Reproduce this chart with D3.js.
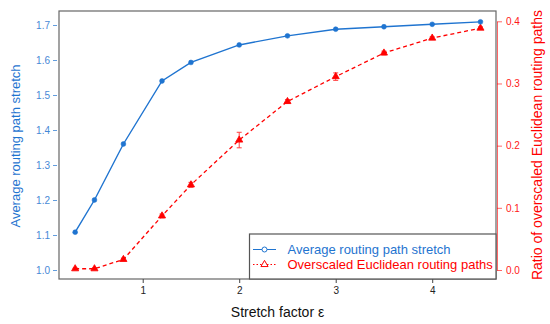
<!DOCTYPE html>
<html><head><meta charset="utf-8">
<script src="https://cdn.jsdelivr.net/npm/d3@7"></script>
<style>body{margin:0;background:#fff}svg{display:block}text{font-family:"Liberation Sans",Arial,sans-serif}</style>
</head><body><svg id="c" width="550" height="324"></svg>
<script>
const eps = [0.3,0.5,0.8,1.2,1.5,2,2.5,3,3.5,4,4.5];
const stretch = [1.108,1.200,1.360,1.540,1.593,1.643,1.669,1.688,1.695,1.702,1.709];
const ratio = [0.002,0.002,0.017,0.087,0.137,0.209,0.271,0.311,0.349,0.373,0.389];
const ratioErr = [0.001,0.001,0.002,0.003,0.004,0.0125,0.003,0.006,0.003,0.002,0.002];
const xTicks = [1,2,3,4];
const leftTicks = [1.0,1.1,1.2,1.3,1.4,1.5,1.6,1.7];
const rightTicks = [0.0,0.1,0.2,0.3,0.4];
const legendLabels = ["Average routing path stretch","Overscaled Euclidean routing paths"];

const BLUE = "#1f74d0", RED = "#ff0000";
const L = 59, R = 496, T = 11, B = 279;
const svg = d3.select("#c");
const x = d3.scaleLinear().domain([0.1326, 4.661]).range([L, R]);
const yL = d3.scaleLinear().domain([1.0, 1.7]).range([270, 25]);
const yR = d3.scaleLinear().domain([0.0, 0.4]).range([270, 21.3]);

// box
svg.append("rect").attr("x", L).attr("y", T).attr("width", R - L).attr("height", B - T)
  .attr("fill", "none").attr("stroke", "#666").attr("stroke-width", 1.2);

// left axis
const gl = svg.append("g").attr("transform", `translate(${L - 2},0)`)
  .call(d3.axisLeft(yL).tickValues(leftTicks).tickFormat(d3.format(".1f")).tickSize(4).tickPadding(3));
gl.select(".domain").remove();
gl.selectAll("line").attr("stroke", BLUE).attr("opacity", 0.7);
gl.selectAll("text").attr("fill", BLUE).attr("font-size", 10).attr("opacity", 0.85);

// right axis
const gr = svg.append("g").attr("transform", `translate(${R + 1},0)`)
  .call(d3.axisRight(yR).tickValues(rightTicks).tickFormat(d3.format(".1f")).tickSize(5).tickPadding(4).tickSizeOuter(0));
gr.select(".domain").attr("stroke", RED).attr("opacity", 0.6);
gr.selectAll("line").attr("stroke", RED).attr("opacity", 0.6);
gr.selectAll("text").attr("fill", RED).attr("font-size", 10).attr("opacity", 0.9);

// bottom axis
const gb = svg.append("g").attr("transform", `translate(0,${B})`)
  .call(d3.axisBottom(x).tickValues(xTicks).tickFormat(d3.format("d")).tickSize(4).tickPadding(4));
gb.select(".domain").remove();
gb.selectAll("line").attr("stroke", "#444");
gb.selectAll("text").attr("fill", "#222").attr("font-size", 10);

// red series
const redData = eps.map((e, i) => ({e, v: ratio[i], err: ratioErr[i]}));
svg.append("path").datum(redData)
  .attr("d", d3.line().x(d => x(d.e)).y(d => yR(d.v)))
  .attr("fill", "none").attr("stroke", RED).attr("stroke-width", 1.3).attr("stroke-dasharray", "4,3");
const eb = svg.append("g").attr("stroke", RED).attr("stroke-width", 1).attr("opacity", 0.75);
redData.forEach(d => {
  const y0 = yR(d.v - d.err), y1 = yR(d.v + d.err), cx = x(d.e);
  eb.append("line").attr("x1", cx).attr("x2", cx).attr("y1", y0).attr("y2", y1);
  eb.append("line").attr("x1", cx - 2.5).attr("x2", cx + 2.5).attr("y1", y0).attr("y2", y0);
  eb.append("line").attr("x1", cx - 2.5).attr("x2", cx + 2.5).attr("y1", y1).attr("y2", y1);
});
const tri = d3.symbol().type(d3.symbolTriangle).size(22);
svg.append("g").selectAll("path").data(redData).join("path")
  .attr("d", tri).attr("transform", d => `translate(${x(d.e)},${yR(d.v)})`)
  .attr("fill", RED).attr("stroke", RED).attr("stroke-width", 0.8);

// blue series
const blueData = eps.map((e, i) => ({e, v: stretch[i]}));
svg.append("path").datum(blueData)
  .attr("d", d3.line().x(d => x(d.e)).y(d => yL(d.v)))
  .attr("fill", "none").attr("stroke", BLUE).attr("stroke-width", 1.4);
svg.append("g").selectAll("circle").data(blueData).join("circle")
  .attr("cx", d => x(d.e)).attr("cy", d => yL(d.v)).attr("r", 2.4)
  .attr("fill", BLUE).attr("stroke", BLUE).attr("stroke-width", 0.6);

// titles
svg.append("text").attr("transform", "translate(20,146) rotate(-90)")
  .attr("text-anchor", "middle").attr("font-size", 13).attr("fill", BLUE).text("Average routing path stretch");
svg.append("text").attr("transform", "translate(542,145) rotate(-90)")
  .attr("text-anchor", "middle").attr("font-size", 14).attr("fill", RED).text("Ratio of overscaled Euclidean routing paths");
svg.append("text").attr("x", (L + R) / 2).attr("y", 317)
  .attr("text-anchor", "middle").attr("font-size", 14).attr("fill", "#111").text("Stretch factor ε");

// legend
const lg = svg.append("g");
lg.append("rect").attr("x", 249.5).attr("y", 234).attr("width", R - 249.5).attr("height", B - 234)
  .attr("fill", "#fff").attr("stroke", "#555").attr("stroke-width", 1.2);
const ly = [249.5, 264.5];
lg.append("line").attr("x1", 253).attr("x2", 276).attr("y1", ly[0]).attr("y2", ly[0]).attr("stroke", BLUE).attr("stroke-width", 1);
lg.append("circle").attr("cx", 264.5).attr("cy", ly[0]).attr("r", 2.5).attr("fill", "#fff").attr("stroke", BLUE).attr("stroke-width", 1);
lg.append("line").attr("x1", 253).attr("x2", 276).attr("y1", ly[1]).attr("y2", ly[1]).attr("stroke", RED).attr("stroke-width", 1).attr("stroke-dasharray", "1.5,2");
lg.append("path").attr("d", d3.symbol().type(d3.symbolTriangle).size(22)).attr("transform", `translate(264.5,${ly[1]})`)
  .attr("fill", "#fff").attr("stroke", RED).attr("stroke-width", 1);
[BLUE, RED].forEach((c, i) => {
  lg.append("text").attr("x", 287.5).attr("y", ly[i] + 4.5).attr("font-size", 13).attr("fill", c).text(legendLabels[i]);
});
</script></body></html>
